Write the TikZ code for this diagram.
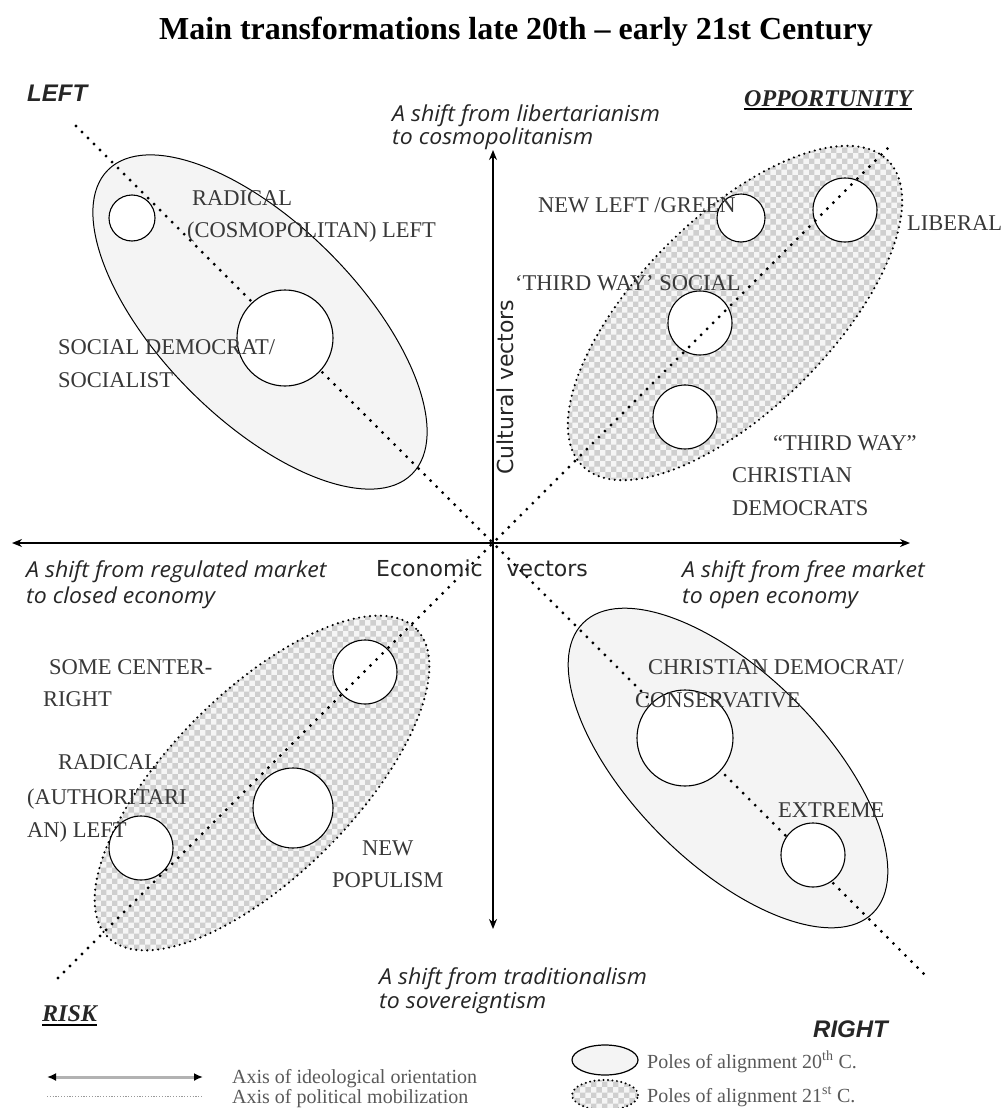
\documentclass[tikz,border=0pt]{standalone}
\usepackage{fontspec}
\setmainfont{Liberation Serif}
\newfontfamily\itsans[FakeStretch=1.05]{Open Sans}
\newfontfamily\axfont{DejaVu Sans}
\newfontfamily\heavysans{Liberation Sans}
\usetikzlibrary{shapes.geometric,patterns,arrows.meta}
\tikzset{
  party/.style={font=\fontsize{22.5}{27}\selectfont, text=black!78, inner sep=0pt, anchor=base west},
  shifttext/.style={font=\itsans\itshape\fontsize{22}{26}\selectfont, text=black!85, inner sep=0pt, anchor=base west},
  axlabel/.style={font=\axfont\fontsize{22}{26}\selectfont, text=black!85, inner sep=0pt},
  corner/.style={font=\heavysans\bfseries\itshape\fontsize{24}{28}\selectfont, text=black!85, inner sep=0pt, anchor=base west},
  cornerserif/.style={font=\bfseries\itshape\fontsize{24}{28}\selectfont, text=black!85, inner sep=0pt, anchor=base west},
  legtext/.style={font=\fontsize{20}{22}\selectfont, text=black!65, inner sep=0pt, anchor=base west},
  pole20/.style={ellipse, draw=black, line width=1pt, fill=gray!9, inner sep=0pt},
  pole21/.style={ellipse, draw=black, line width=2.4pt, dash pattern=on 0pt off 5.5pt, line cap=round,
     preaction={fill=gray!8}, pattern=checkerboard, pattern color=gray!38, inner sep=0pt},
  circ/.style={circle, draw=black, line width=1.1pt, fill=white, inner sep=0pt},
  mob/.style={line width=3.2pt, dash pattern=on 0pt off 8.5pt, line cap=round},
  axisline/.style={line width=2.2pt, {Stealth[length=10pt,width=8pt]}-{Stealth[length=10pt,width=8pt]}},
}
\begin{document}
\begin{tikzpicture}[x=1pt,y=-1pt]
\useasboundingbox (0,0) rectangle (1008,1108);
\fill[white] (0,0) rectangle (1008,1108);

% title
\node[font=\bfseries\fontsize{32}{37}\selectfont, inner sep=0pt, anchor=base] (title) at (516,40) {Main transformations late 20th – early 21st Century};

% poles (ellipses)
\node[pole20, minimum width=430, minimum height=196, rotate=-45] (e1) at (260,322) {};
\node[pole21, minimum width=432, minimum height=192, rotate=45] (e2) at (735,313) {};
\node[pole21, minimum width=436, minimum height=184, rotate=45] (e3) at (262,783) {};
\node[pole20, minimum width=410, minimum height=190, rotate=-45] (e4) at (728,768) {};

% axis of political mobilization (NW-SE)
\coordinate (m1a) at (76,126);
\coordinate (m1b) at (926,976);
\draw[mob] (m1a) -- (m1b);

% circles
\node[circ, minimum size=46] (c1) at (132,218) {};
\node[circ, minimum size=96] (c2) at (285,338) {};
\node[circ, minimum size=48] (c3) at (741,218) {};
\node[circ, minimum size=64] (c4) at (845,210) {};
\node[circ, minimum size=64] (c5) at (700,323) {};
\node[circ, minimum size=64] (c6) at (685,417) {};
\node[circ, minimum size=64] (c7) at (365,672) {};
\node[circ, minimum size=80] (c8) at (293,808) {};
\node[circ, minimum size=64] (c9) at (141,848) {};
\node[circ, minimum size=96] (c10) at (685,738) {};
\node[circ, minimum size=64] (c11) at (813,855) {};

% axis of political mobilization (SW-NE)
\coordinate (m2a) at (58,978);
\coordinate (m2b) at (893,143);
\draw[mob] (m2a) -- (m2b);

% axes of ideological orientation
\coordinate (axl) at (12,543);
\coordinate (axr) at (910,543);
\coordinate (axt) at (493,150);
\coordinate (axb) at (493,929);
\draw[axisline] (axl) -- (axr);
\draw[axisline] (axb) -- (axt);

% axis labels
\node[axlabel, anchor=base west] (econ) at (376,576) {Economic\hspace{24pt}vectors};
\node[axlabel, anchor=base, rotate=90] (cult) at (513,387) {Cultural vectors};

% corner labels
\node[corner] (left) at (27,101) {LEFT};
\node[corner] (right) at (813,1037) {RIGHT};
\node[cornerserif] (opp) at (744,106) {OPPORTUNITY};
\draw[line width=2pt] ([yshift=-3pt]opp.base west) -- ([yshift=-3pt]opp.base east);
\node[cornerserif] (risk) at (42,1021) {RISK};
\draw[line width=2pt] ([yshift=-4pt]risk.base west) -- ([yshift=-4pt]risk.base east);

% shift texts
\node[shifttext] (s1a) at (392,121) {A shift from libertarianism};
\node[shifttext] (s1b) at (392,144) {to cosmopolitanism};
\node[shifttext] (s2a) at (26,577) {A shift from regulated market};
\node[shifttext] (s2b) at (26,603) {to closed economy};
\node[shifttext] (s3a) at (682,577) {A shift from free market};
\node[shifttext] (s3b) at (682,603) {to open economy};
\node[shifttext] (s4a) at (379,984) {A shift from traditionalism};
\node[shifttext] (s4b) at (379,1008) {to sovereigntism};

% party labels
\node[party] (tl1) at (192,205.5) {RADICAL};
\node[party] (tl2) at (187,237.5) {(COSMOPOLITAN) LEFT};
\node[party] (tl3) at (58,354.5) {SOCIAL DEMOCRAT/};
\node[party] (tl4) at (58,387.5) {SOCIALIST};
\node[party] (tr1) at (538,212.5) {NEW LEFT /GREEN};
\node[party] (tr2) at (907,230.5) {LIBERAL};
\node[party] (tr3) at (515,290.5) {‘THIRD WAY’ SOCIAL};
\node[party] (tr4) at (773,450.5) {“THIRD WAY”};
\node[party] (tr5) at (732,482.5) {CHRISTIAN};
\node[party] (tr6) at (732,515.5) {DEMOCRATS};
\node[party] (br1) at (648,674.5) {CHRISTIAN DEMOCRAT/};
\node[party] (br2) at (635,707.5) {CONSERVATIVE};
\node[party] (br3) at (778,817.5) {EXTREME};
\node[party] (bl1) at (49,674.5) {SOME CENTER-};
\node[party] (bl2) at (43,706.5) {RIGHT};
\node[party] (bl3) at (58,769.5) {RADICAL};
\node[party] (bl4) at (27,804.5) {(AUTHORITARI};
\node[party] (bl5) at (27,837.5) {AN) LEFT};
\node[party] (bl6) at (362,855.5) {NEW};
\node[party] (bl7) at (332,887.5) {POPULISM};

% legend
\coordinate (la1) at (47,1077);
\coordinate (la2) at (203,1077);
\draw[gray!60, line width=3pt, {Latex[color=black,length=9pt,width=8pt]}-{Latex[color=black,length=9pt,width=8pt]}] (la1) -- (la2);
\coordinate (lm1) at (47,1096);
\coordinate (lm2) at (203,1096);
\draw[gray!80, line width=0.7pt, dash pattern=on 1.2pt off 1.6pt] (lm1) -- (lm2);
\node[legtext] (lt1) at (232,1083) {Axis of ideological orientation};
\node[legtext] (lt2) at (232,1103) {Axis of political mobilization};
\node[pole20, minimum width=66, minimum height=30, line width=1.2pt] (le1) at (605,1060) {};
\node[pole21, minimum width=66, minimum height=30, line width=2.2pt, dash pattern=on 0pt off 4.5pt] (le2) at (605,1095) {};
\node[legtext] (lt3) at (647,1068) {Poles of alignment 20\textsuperscript{th} C.};
\node[legtext] (lt4) at (647,1102) {Poles of alignment 21\textsuperscript{st} C.};
\end{tikzpicture}
\end{document}
